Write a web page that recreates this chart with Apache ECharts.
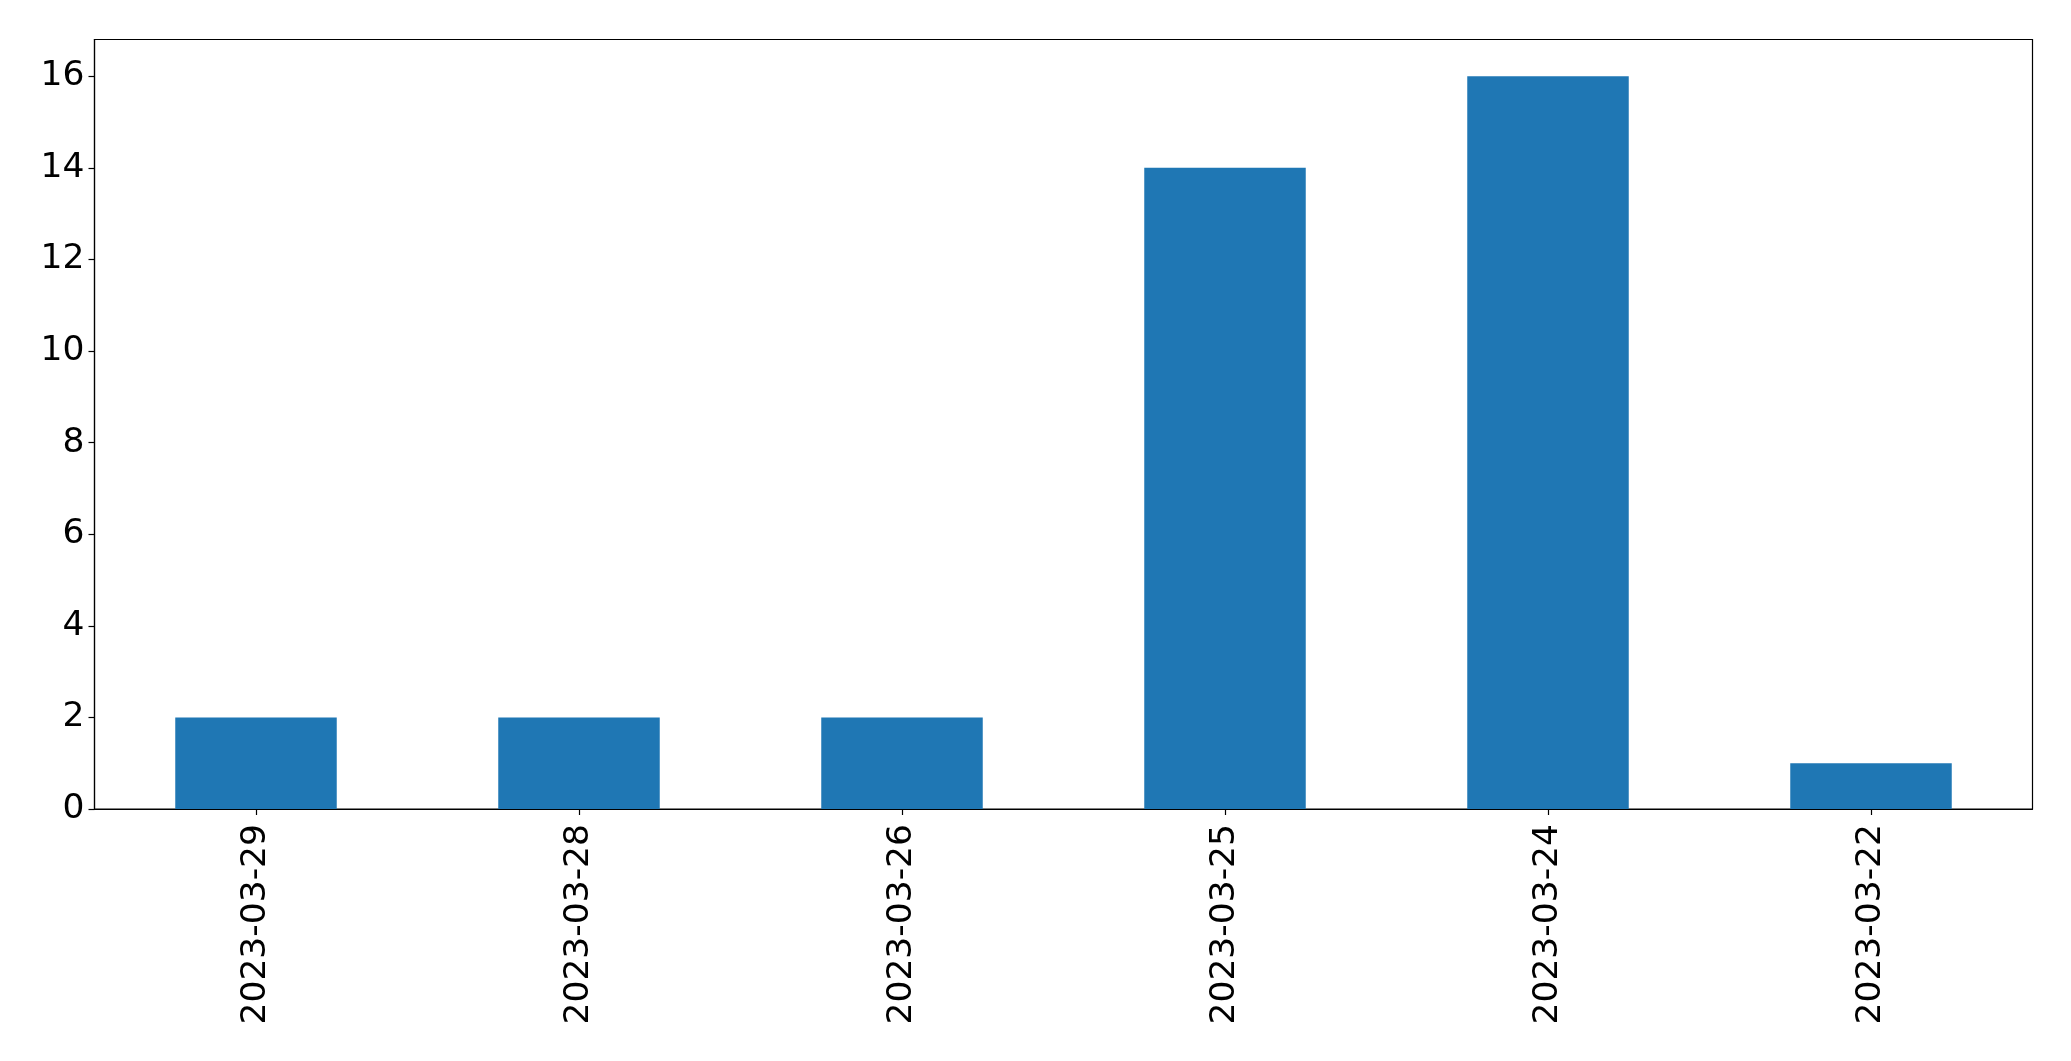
<!DOCTYPE html>
<html>
<head>
<meta charset="utf-8">
<script src="https://cdn.jsdelivr.net/npm/echarts@6/dist/echarts.min.js"></script>
<style>
html,body{margin:0;padding:0;background:#fff;}
#chart{width:2071px;height:1061px;}
</style>
</head>
<body>
<div id="chart"></div>
<script>
const categories = ["2023-03-29","2023-03-28","2023-03-26","2023-03-25","2023-03-24","2023-03-22"];
const counts = [2, 2, 2, 14, 16, 1];
const yTicks = [0, 2, 4, 6, 8, 10, 12, 14, 16];

const chart = echarts.init(document.getElementById('chart'), null, {renderer: 'canvas'});
const font = {fontFamily: 'DejaVu Sans', fontSize: 34.5, color: '#000'};
chart.setOption({
  animation: false,
  backgroundColor: '#fff',
  grid: {left: 94.5, right: 38.5, top: 39.5, bottom: 252, show: true, borderColor: '#000', borderWidth: 1.2, containLabel: false},
  xAxis: {
    type: 'category',
    data: categories,
    boundaryGap: true,
    axisLine: {show: true, lineStyle: {color: '#000', width: 1.2}},
    axisTick: {show: true, alignWithLabel: true, length: 6, lineStyle: {color: '#000', width: 1.2}},
    axisLabel: Object.assign({rotate: 90, margin: 15, interval: 0}, font),
    splitLine: {show: false}
  },
  yAxis: {
    type: 'value',
    min: 0,
    max: 16.8,
    interval: 2,
    axisLine: {show: true, lineStyle: {color: '#000', width: 1.2}},
    axisTick: {show: true, length: 6, lineStyle: {color: '#000', width: 1.2}, customValues: yTicks},
    axisLabel: Object.assign({margin: 10, customValues: yTicks}, font),
    splitLine: {show: false}
  },
  series: [{
    type: 'bar',
    data: counts,
    barWidth: '50%',
    itemStyle: {color: '#1f77b4'}
  }]
});
</script>
</body>
</html>
